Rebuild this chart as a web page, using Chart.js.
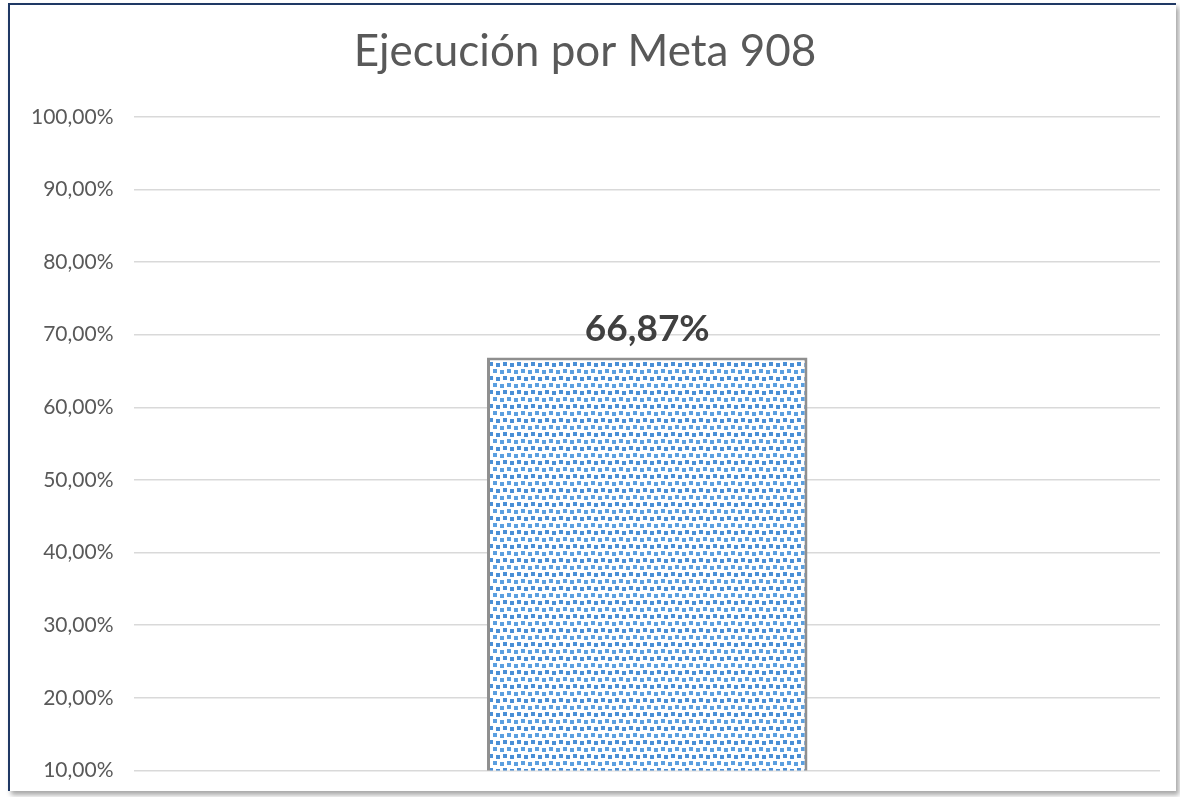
<!DOCTYPE html>
<html>
<head>
<meta charset="utf-8">
<script src="https://cdn.jsdelivr.net/npm/chart.js@4"></script>
<style>
  body { margin: 0; background: #fff; }
  #frame {
    position: absolute; left: 8px; top: 3px; width: 1166px; height: 786px;
    border-top: 2px solid #1f3864; border-left: 2px solid #1f3864;
    box-shadow: 3px 4px 5px rgba(0,0,0,0.35);
    background: #fff;
  }
  #myChart { position: absolute; left: 0; top: 0; }
</style>
</head>
<body>
<div id="frame"><canvas id="myChart" width="1166" height="799"></canvas></div>
<script>
const categories = [''];
const values = [66.87];
const yMin = 10;
const yMax = 100;
const yStep = 10;

// dotted fill like the original bar
function dotPattern() {
  const c = document.createElement('canvas');
  c.width = 14; c.height = 14;
  const g = c.getContext('2d');
  g.fillStyle = '#ffffff';
  g.fillRect(0, 0, 14, 14);
  g.fillStyle = '#5b9fe0';
  g.fillRect(0, 1, 4, 4);
  g.fillRect(7, 0, 4, 4);
  g.fillStyle = '#4a8fd6';
  g.fillRect(3, 7, 4, 4);
  g.fillRect(10, 8, 4, 4);
  return g.createPattern(c, 'repeat');
}

const fmt = v => v.toFixed(2).replace('.', ',') + '%';

const valueLabels = {
  id: 'valueLabels',
  afterDatasetsDraw(chart) {
    const ctx = chart.ctx;
    chart.getDatasetMeta(0).data.forEach((bar, i) => {
      ctx.save();
      ctx.font = 'bold 37px Lato';
      ctx.fillStyle = '#404040';
      ctx.textAlign = 'center';
      ctx.textBaseline = 'bottom';
      ctx.fillText(fmt(values[i]), bar.x, bar.y - 10);
      ctx.restore();
    });
  }
};

Chart.defaults.font.family = 'Lato';

const data = {
  labels: categories,
  datasets: [{
    data: values,
    backgroundColor: dotPattern(),
    borderColor: '#8f8f8f',
    borderWidth: 3,
    borderSkipped: 'bottom',
    barPercentage: 0.625,
    categoryPercentage: 0.5
  }]
};

const config = {
  type: 'bar',
  data: data,
  plugins: [valueLabels],
  options: {
    responsive: false,
    animation: false,
    layout: { padding: { left: 0, right: 16, top: 0, bottom: 0 } },
    plugins: {
      legend: { display: false },
      tooltip: { enabled: false },
      title: {
        display: true,
        text: 'Ejecución por Meta 908',
        color: '#595959',
        font: { size: 44, weight: 'normal' },
        padding: { top: 20, bottom: 39 }
      }
    },
    scales: {
      x: { display: false },
      y: {
        min: yMin,
        max: yMax,
        ticks: {
          stepSize: yStep,
          color: '#595959',
          font: { size: 21 },
          padding: 21,
          callback: v => fmt(v)
        },
        grid: { color: '#d9d9d9', lineWidth: 1.5, drawTicks: false },
        border: { display: false }
      }
    }
  }
};

const myChart = new Chart(document.getElementById('myChart'), config);
</script>
</body>
</html>
